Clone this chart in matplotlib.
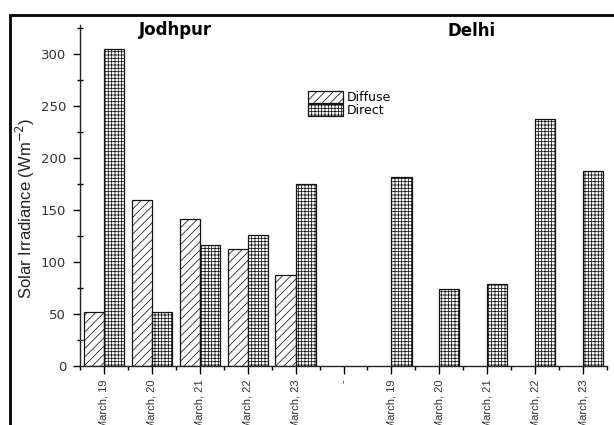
import numpy as np
import matplotlib
matplotlib.use('Agg')
import matplotlib.pyplot as plt
from matplotlib.patches import Rectangle
from matplotlib.ticker import MultipleLocator

# Werte
labels = ['March, 19', 'March, 20', 'March, 21', 'March, 22', 'March, 23', '-',
          'March, 19', 'March, 20', 'March, 21', 'March, 22', 'March, 23']
diffuse = [52, 160, 142, 113, 88, np.nan, np.nan, np.nan, np.nan, np.nan, np.nan]
direct = [305, 52, 117, 126, 175, np.nan, 182, 74, 79, 238, 188]
cities = ['Jodhpur', 'Delhi']

plt.rcParams['hatch.linewidth'] = 0.55

fig = plt.figure(figsize=(6.14, 4.25), dpi=100)
ax = fig.add_axes([80 / 614, 1 - 366.3 / 425, (607 - 80) / 614, (366.3 - 25) / 425])

x = np.arange(len(labels))
w = 0.42
ax.bar(x, diffuse, width=-w, align='edge', color='white', edgecolor='#111111',
       linewidth=0.9, hatch='////', label='Diffuse')
ax.bar(x, direct, width=w, align='edge', color='white', edgecolor='#111111',
       linewidth=0.9, hatch='+++++', label='Direct')

ax.set_xlim(-0.5, len(labels) - 0.5)
ax.set_ylim(0, 328)
ax.set_xticks(x)
ax.set_xticklabels(labels, rotation=90, fontsize=8, family='Liberation Sans', color='#333333')
ax.xaxis.set_minor_locator(MultipleLocator(1, offset=0.5))
ax.yaxis.set_major_locator(MultipleLocator(50))
ax.yaxis.set_minor_locator(MultipleLocator(25))
ax.tick_params(axis='x', which='major', direction='out', length=5.8, width=1, pad=3.5)
ax.tick_params(axis='x', which='minor', direction='out', length=3, width=1)
ax.tick_params(axis='y', which='major', direction='out', length=5, width=1, pad=5,
               labelsize=9.5, labelcolor='#333333')
ax.tick_params(axis='y', which='minor', direction='inout', length=4, width=1)

ax.spines['top'].set_visible(False)
ax.spines['right'].set_visible(False)
for s in ['left', 'bottom']:
    ax.spines[s].set_linewidth(1)
    ax.spines[s].set_color('#222222')

ax.set_ylabel('Solar Irradiance (Wm$^{-2}$)', fontsize=12, family='Liberation Sans',
              color='#222222')
ax.yaxis.set_label_coords(-43 / 527, 0.464)

fig.text(176 / 614, 1 - 30 / 425, cities[0], fontsize=12, fontweight='bold',
         ha='center', va='center')
fig.text(471.5 / 614, 1 - 31 / 425, cities[1], fontsize=12, fontweight='bold',
         ha='center', va='center')

ax.legend(loc='upper left', bbox_to_anchor=(308 / 614, 1 - 91 / 425),
          bbox_transform=fig.transFigure, frameon=False, fontsize=9,
          handlelength=2.8, handleheight=1.05, labelspacing=0.0,
          handletextpad=0.3, borderpad=0, borderaxespad=0)

# schwarzer Rahmen um das Bild
fig.patches.append(Rectangle((10 / 614, -0.5), 1.5, 1.5 - 14.5 / 425,
                             transform=fig.transFigure, fill=False,
                             edgecolor='black', linewidth=2))

fig.savefig('out.png', dpi=100)
